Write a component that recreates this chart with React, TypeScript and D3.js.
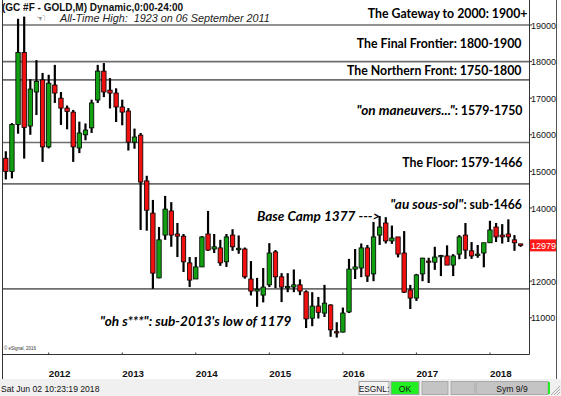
import React from "react";
import * as d3 from "d3";

// Monthly GC #F candles, Jun 2011 .. Jun 2018
const months = [
  "2011-06","2011-07","2011-08","2011-09","2011-10","2011-11","2011-12",
  "2012-01","2012-02","2012-03","2012-04","2012-05","2012-06","2012-07","2012-08","2012-09","2012-10","2012-11","2012-12",
  "2013-01","2013-02","2013-03","2013-04","2013-05","2013-06","2013-07","2013-08","2013-09","2013-10","2013-11","2013-12",
  "2014-01","2014-02","2014-03","2014-04","2014-05","2014-06","2014-07","2014-08","2014-09","2014-10","2014-11","2014-12",
  "2015-01","2015-02","2015-03","2015-04","2015-05","2015-06","2015-07","2015-08","2015-09","2015-10","2015-11","2015-12",
  "2016-01","2016-02","2016-03","2016-04","2016-05","2016-06","2016-07","2016-08","2016-09","2016-10","2016-11","2016-12",
  "2017-01","2017-02","2017-03","2017-04","2017-05","2017-06","2017-07","2017-08","2017-09","2017-10","2017-11","2017-12",
  "2018-01","2018-02","2018-03","2018-04","2018-05","2018-06",
];
const opens = [
  1536,1500,1628,1825,1624,1717,1750,
  1567,1736,1700,1673,1662,1564,1600,1619,1695,1774,1722,1714,
  1676,1665,1580,1599,1474,1386,1209,1326,1392,1329,1323,1250,
  1206,1239,1329,1288,1291,1253,1326,1286,1288,1206,1173,1162,
  1190,1280,1212,1182,1184,1190,1171,1099,1132,1113,1135,1062,
  1061,1116,1233,1236,1291,1220,1326,1359,1310,1321,1277,1176,
  1154,1220,1255,1252,1268,1269,1244,1274,1326,1283,1270,1277,
  1305,1348,1326,1329,1313,1302,
];
const highs = [
  1555,1632,1917,1923,1752,1804,1769,
  1764,1791,1717,1680,1668,1636,1631,1696,1791,1796,1755,1727,
  1696,1673,1617,1605,1488,1422,1348,1433,1416,1359,1329,1266,
  1266,1323,1392,1329,1313,1329,1342,1325,1292,1255,1209,1236,
  1304,1285,1222,1222,1232,1205,1175,1170,1157,1190,1137,1088,
  1128,1261,1288,1303,1299,1362,1378,1375,1352,1321,1337,1190,
  1220,1264,1264,1294,1272,1298,1274,1326,1359,1307,1299,1305,
  1365,1359,1356,1369,1326,1302,
];
const lows = [
  1478,1481,1603,1535,1600,1654,1526,
  1563,1687,1627,1615,1526,1550,1585,1605,1687,1703,1672,1635,
  1626,1557,1562,1340,1338,1179,1208,1313,1294,1266,1225,1184,
  1206,1239,1283,1277,1242,1239,1283,1275,1207,1161,1130,1142,
  1184,1181,1143,1170,1170,1162,1072,1077,1098,1102,1048,1046,
  1060,1113,1206,1211,1198,1200,1299,1303,1302,1265,1168,1124,
  1146,1200,1195,1231,1214,1244,1214,1260,1261,1261,1264,1238,
  1305,1307,1303,1307,1283,1294,
];
const closes = [
  1500,1628,1825,1620,1725,1746,1567,
  1741,1714,1673,1664,1567,1605,1613,1687,1774,1717,1714,1676,
  1662,1580,1594,1471,1394,1222,1313,1397,1326,1323,1253,1203,
  1239,1321,1285,1294,1250,1321,1294,1290,1212,1173,1178,1184,
  1277,1212,1184,1186,1190,1173,1097,1132,1115,1140,1067,1060,
  1113,1233,1239,1291,1214,1321,1348,1310,1318,1274,1170,1154,
  1217,1263,1252,1266,1270,1244,1269,1321,1285,1269,1274,1305,
  1340,1321,1321,1321,1305,1297.9,
];

const yearLabels = ["2012", "2013", "2014", "2015", "2016", "2017", "2018"];
const yearMonths = ["2012-01", "2013-01", "2014-01", "2015-01", "2016-01", "2017-01", "2018-01"];
const priceTicks = [1100, 1200, 1300, 1400, 1500, 1600, 1700, 1800, 1900];
const levelLines = [1900, 1800, 1750, 1579, 1466, 1179];
const lastPrice = 1297.9;

const W = 561;
const H = 396;
const PLOT_L = 2.5;
const PLOT_R = 529.5;
const AXIS_Y = 354.5;

export default function App() {
  const x = d3.scalePoint<string>().domain(months).range([5.8, 520.6]);
  const y = d3.scaleLinear().domain([1100, 1900]).range([317.8, 25]);
  const fmtAxis = (v: number) => d3.format("d")(v * 10);

  const bodyW = 4.4;
  const green = "#11a011";
  const red = "#f01010";

  const calibri = "Lato, 'Open Sans', sans-serif";
  const sans = "'Liberation Sans', Arial, sans-serif";
  const pre: React.CSSProperties = { whiteSpace: "pre" };
  const itSize = 13.6;

  return (
    <div style={{ position: "fixed", left: 0, top: 0 }}>
      <svg width={W} height={H} style={{ display: "block", background: "#fff" }}>
        {/* level lines */}
        {levelLines.map((lv) => (
          <line key={lv} x1={PLOT_L} x2={PLOT_R} y1={y(lv)} y2={y(lv)} stroke="#6e6e6e" strokeWidth={1.6} />
        ))}

        {/* candles */}
        {months.map((m, i) => {
          const cx = x(m)!;
          const o = opens[i], c = closes[i], h = highs[i], l = lows[i];
          const top = y(Math.max(o, c));
          const bot = y(Math.min(o, c));
          const up = c >= o;
          return (
            <g key={m}>
              <line x1={cx} x2={cx} y1={y(h)} y2={y(l)} stroke="#000" strokeWidth={2.2} />
              <rect x={cx - bodyW / 2} y={top} width={bodyW} height={Math.max(bot - top, 1.2)}
                fill={up ? green : red} stroke="#000" strokeWidth={0.8} />
            </g>
          );
        })}

        {/* plot frame */}
        <line x1={PLOT_L} x2={PLOT_L} y1={0} y2={380} stroke="#333" strokeWidth={1} />
        <line x1={PLOT_R} x2={PLOT_R} y1={0} y2={AXIS_Y} stroke="#333" strokeWidth={1} />
        <line x1={PLOT_L} x2={PLOT_R} y1={AXIS_Y} y2={AXIS_Y} stroke="#333" strokeWidth={1} />
        <line x1={556.5} x2={556.5} y1={0} y2={380} stroke="#555" strokeWidth={1} />

        {/* y axis */}
        {priceTicks.map((p) => (
          <g key={p}>
            <line x1={PLOT_R} x2={PLOT_R + 2.5} y1={y(p)} y2={y(p)} stroke="#333" />
            <text x={531} y={y(p) + 3.5} fontFamily={sans} fontSize={9} fill="#111">{fmtAxis(p)}</text>
          </g>
        ))}
        <rect x={530} y={y(lastPrice) - 6} width={26} height={12} fill="#ff1a1a" />
        <text x={531} y={y(lastPrice) + 3.5} fontFamily={sans} fontSize={9} fill="#fff">{fmtAxis(lastPrice)}</text>

        {/* x axis */}
        {yearMonths.map((m, i) => (
          <g key={m}>
            <line x1={x(m)!} x2={x(m)!} y1={AXIS_Y - 2} y2={AXIS_Y} stroke="#333" />
            <text x={x(m)!} y={377} fontFamily={sans} fontWeight="bold" fontSize={9.8} fill="#111">{yearLabels[i]}</text>
          </g>
        ))}

        {/* header */}
        <text x={2} y={11} fontFamily={sans} fontWeight="bold" fontSize={10} fill="#111">(GC #F - GOLD,M) Dynamic,0:00-24:00</text>
        <text x={36} y={22} fontFamily="'DejaVu Sans', sans-serif" fontSize={11} fill="#333">☜</text>
        <text x={60} y={22} style={pre} fontFamily={sans} fontStyle="italic" fontSize={10.8} fill="#222">All-Time High:  1923 on 06 September 2011</text>
        <text x={4} y={350} fontFamily={sans} fontSize={4.5} fill="#333">© eSignal, 2016</text>

        {/* zone annotations */}
        <g fontFamily={calibri} fontWeight="bold" fontSize={12.3} fill="#000" textAnchor="end" style={pre}>
          <text x={527.5} y={18}>The Gateway to 2000:  1900+</text>
          <text x={521.5} y={48}>The Final Frontier:  1800-1900</text>
          <text x={521.5} y={75}>The Northern Front:  1750-1800</text>
          <text x={522.5} y={114.5}><tspan fontStyle="italic" fontSize={itSize}>"on maneuvers..."</tspan>:  1579-1750</text>
          <text x={522.5} y={166.5}>The Floor:  1579-1466</text>
          <text x={522} y={208.5}><tspan fontStyle="italic" fontSize={itSize}>"au sous-sol"</tspan>:  sub-1466</text>
        </g>
        <g fontFamily={calibri} fontWeight="bold" fontStyle="italic" fontSize={itSize} fill="#000" style={pre}>
          <text x={257} y={220.5}>Base Camp 1377 ---&gt;</text>
          <text x={100} y={325.5}>"oh s***":  sub-2013's low of 1179</text>
        </g>

        {/* status bar */}
        <rect x={0} y={379} width={W} height={17} fill="#f0f0f0" />
        <text x={1} y={392} fontFamily={sans} fontSize={8.6} fill="#111">Sat Jun 02 10:23:19 2018</text>
        <rect x={359} y={381.5} width={30} height={13} fill="#f4f4f4" stroke="#a0a0a0" />
        <text x={374} y={392} fontFamily={sans} fontSize={8.4} fill="#111" textAnchor="middle">ESGNL:</text>
        <rect x={391} y={381.5} width={28} height={13} fill="#22ee22" stroke="#a0a0a0" />
        <text x={405} y={392} fontFamily={sans} fontSize={8.6} fill="#111" textAnchor="middle">OK</text>
        <rect x={422} y={381.5} width={26} height={13} fill="#c4c4c4" stroke="#a8a8a8" />
        <rect x={451} y={381.5} width={24} height={13} fill="#c4c4c4" stroke="#a8a8a8" />
        <rect x={476} y={381.5} width={72} height={13} fill="#c4c4c4" stroke="#a8a8a8" />
        <text x={512} y={392} fontFamily={sans} fontSize={8.6} fill="#111" textAnchor="middle">Sym 9/9</text>
        <rect x={548} y={382} width={2} height={12} fill="#22ee22" />
        {[0, 1, 2].map((k) => (
          <line key={k} x1={551 + k * 3} y1={395} x2={560} y2={386 + k * 3} stroke="#999" strokeWidth={0.8} />
        ))}
      </svg>
    </div>
  );
}
